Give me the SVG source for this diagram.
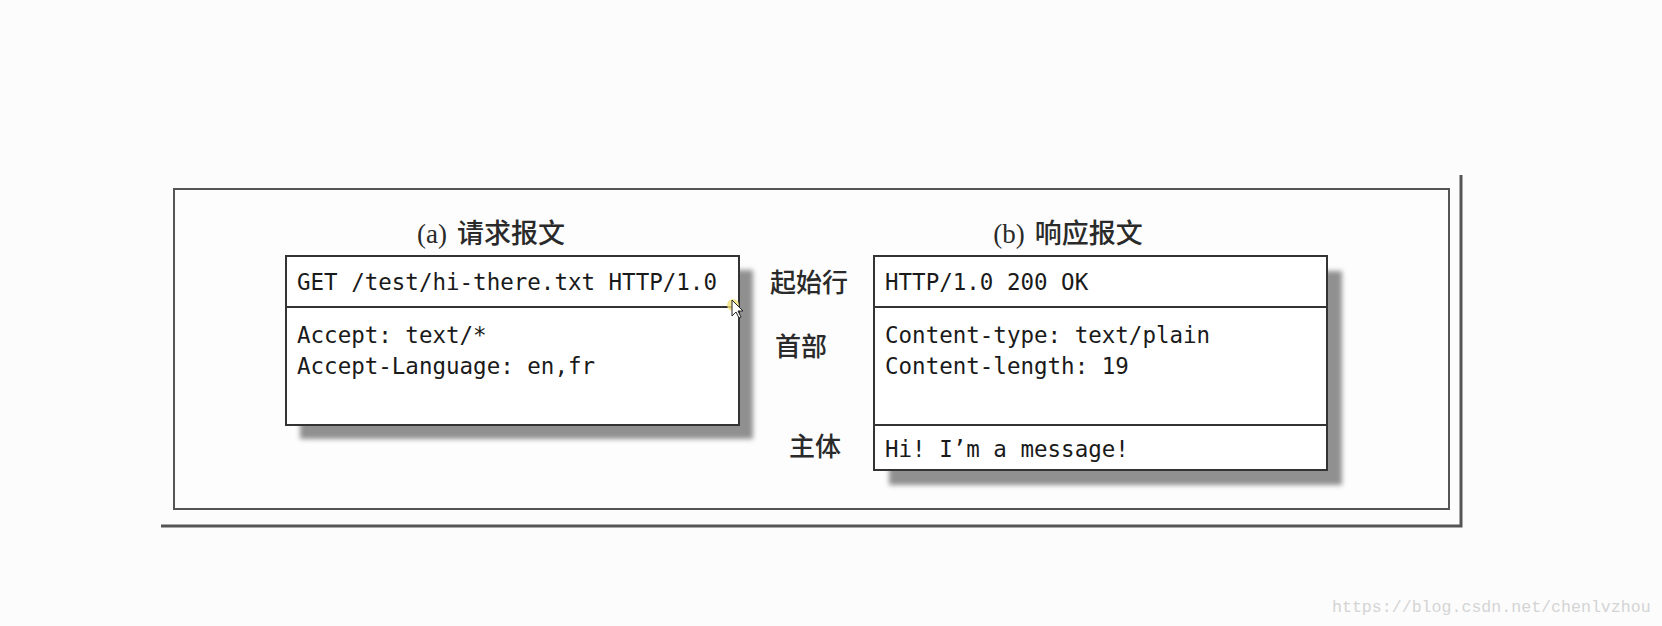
<svg xmlns="http://www.w3.org/2000/svg" width="1662" height="626" viewBox="0 0 1662 626">
<defs>
<filter id="blur" x="-5%" y="-5%" width="110%" height="110%"><feGaussianBlur stdDeviation="2.5"/></filter>
<style>
.box{fill:#fff;stroke:#333;stroke-width:2}
.shadow{fill:#909090;filter:url(#blur)}
.div{stroke:#333;stroke-width:2}
.mono{font-family:"DejaVu Sans Mono","Liberation Mono",monospace;font-size:22.5px;fill:#1a1a1a}
.cjk{font-family:"Noto Sans CJK SC",sans-serif;font-size:26px;fill:#2a2a2a;font-weight:500}
.ttl{font-size:27px}
.ser{font-family:"Liberation Serif",serif;font-size:27px;fill:#2a2a2a}
</style>
</defs>
<rect width="1662" height="626" fill="#fcfcfc"/>
<g id="frame">
<polyline points="161,526 1461,526 1461,175" fill="none" stroke="#555" stroke-width="3"/>
<rect x="174" y="189" width="1275" height="320" fill="#fdfdfd" stroke="#555" stroke-width="2"/>
</g>
<g id="request">
<rect class="shadow" x="300" y="270" width="453" height="169"/>
<rect class="box" x="286" y="256" width="453" height="169"/>
<line class="div" x1="286" y1="307" x2="739" y2="307"/>
<text x="491" y="243" text-anchor="middle"><tspan class="ser">(a)</tspan><tspan class="cjk ttl" dx="10">请求报文</tspan></text>
<text class="mono" x="297" y="290">GET /test/hi-there.txt HTTP/1.0</text>
<text class="mono" x="297" y="343">Accept: text/*</text>
<text class="mono" x="297" y="374">Accept-Language: en,fr</text>
</g>
<g id="response">
<rect class="shadow" x="889" y="271" width="453" height="214"/>
<rect class="box" x="874" y="256" width="453" height="214"/>
<line class="div" x1="874" y1="307" x2="1327" y2="307"/>
<line class="div" x1="874" y1="425" x2="1327" y2="425"/>
<text x="1068" y="243" text-anchor="middle"><tspan class="ser">(b)</tspan><tspan class="cjk ttl" dx="10">响应报文</tspan></text>
<text class="mono" x="885" y="290">HTTP/1.0 200 OK</text>
<text class="mono" x="885" y="343">Content-type: text/plain</text>
<text class="mono" x="885" y="374">Content-length: 19</text>
<text class="mono" x="885" y="457">Hi! I’m a message!</text>
</g>
<g id="labels">
<text class="cjk" x="809" y="292" text-anchor="middle">起始行</text>
<text class="cjk" x="801" y="356" text-anchor="middle">首部</text>
<text class="cjk" x="815" y="456" text-anchor="middle">主体</text>
</g>
<g id="cursor">
<circle cx="733" cy="305" r="6" fill="#f3e27a" opacity="0.8"/>
<polygon points="732,300 732,316 736,312 739,318 741,317 738,311 743,311" fill="#fff" stroke="#222" stroke-width="1"/>
</g>
<text x="1332" y="612" font-family="Liberation Mono,monospace" font-size="16.6" fill="#d4d4d4">https://blog.csdn.net/chenlvzhou</text>
</svg>
